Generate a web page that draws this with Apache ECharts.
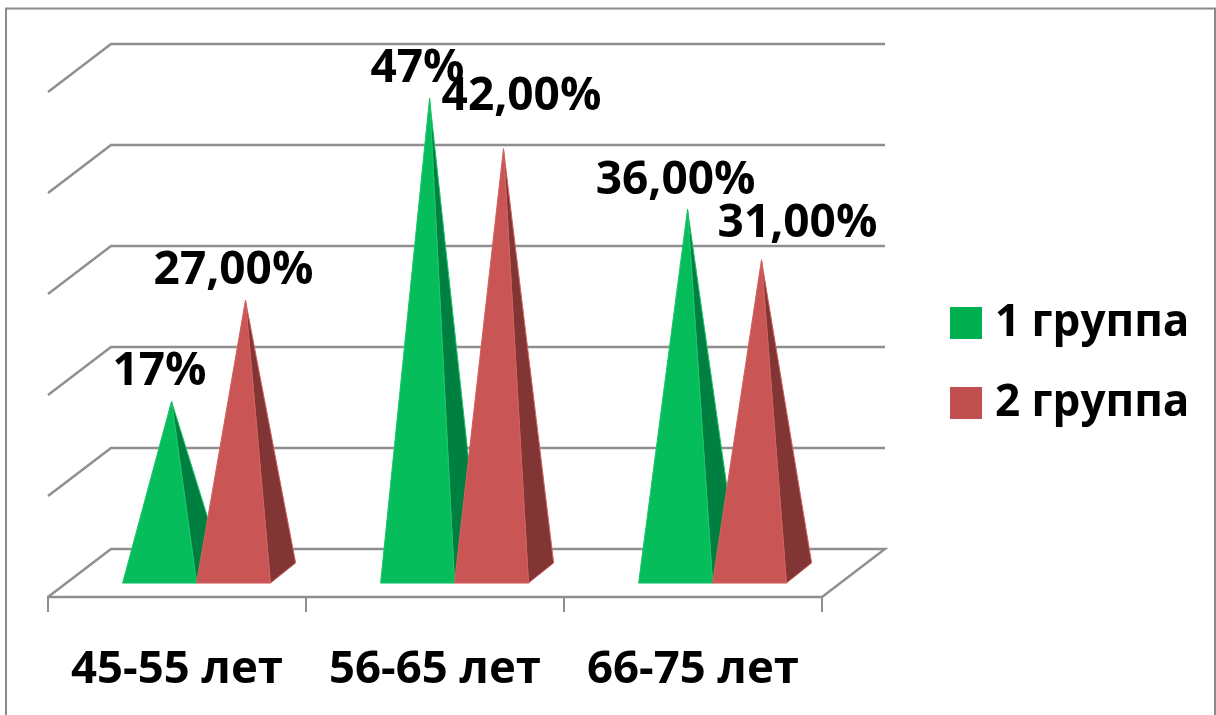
<!DOCTYPE html>
<html>
<head>
<meta charset="utf-8">
<style>html,body{margin:0;padding:0;background:#fff}#chart{width:1216px;height:715px}</style>
<script src="https://cdn.jsdelivr.net/npm/echarts@6/dist/echarts.min.js"></script>
</head>
<body>
<div id="chart"></div>
<script>
// Age bands and share of patients per group, in percent
const ageBands = ['45-55 лет', '56-65 лет', '66-75 лет'];
const group1Name = '1 группа';
const group2Name = '2 группа';
const group1Values = [17, 47, 36];
const group2Values = [27, 42, 31];
const group1Labels = ['17%', '47%', '36,00%'];
const group2Labels = ['27,00%', '42,00%', '31,00%'];
const wallTicks = [0, 10, 20, 30, 40, 50];

// Hand placement of the labels that would otherwise collide, [dx, dy] in pixels
const group1LabelShift = [[0, 0], [0, 0], [0, 0]];
const group2LabelShift = [[0, 0], [30, -23], [48, -7]];

// Oblique projection of the floor depth
const DEPTH_X = 63;
const DEPTH_Y = 48;
const FONT = 'bold 46px "Open Sans"';
const WALL = '#8f8f8f';

const chart = echarts.init(document.getElementById('chart'));

function renderWall(params, api) {
  const box = params.coordSys;
  const y = api.coord([0, api.value(0)])[1];
  const left = box.x, right = box.x + box.width;
  const isFloor = api.value(0) === 0;
  const points = [[left, y], [left + DEPTH_X, y - DEPTH_Y], [right + DEPTH_X, y - DEPTH_Y]];
  if (isFloor) points.push([right, y]);
  return {
    type: 'polyline',
    shape: { points },
    style: { stroke: WALL, lineWidth: 2.4, fill: null },
    silent: true
  };
}

// One pyramid: a lit front face, a shaded right face and its label over the apex.
// slot -1 sits left of the band centre, slot 0 right of it.
function pyramidRenderer(slot, labels, shifts, front, side, edge) {
  return function (params, api) {
    const index = api.value(0);
    const value = api.value(1);
    const band = api.size([1, 0])[0];
    const width = band * 0.2865;
    const floor = api.coord([index, 0]);
    const top = api.coord([index, value]);
    const xL = floor[0] + 0.31 * DEPTH_X + slot * width;
    const xR = xL + width;
    const yF = floor[1] - 0.29 * DEPTH_Y;
    const backX = xR + 0.40 * DEPTH_X;
    const backY = yF - 0.42 * DEPTH_Y;
    const apex = [xL + width / 2 + 0.19 * DEPTH_X, top[1] - 0.5 * DEPTH_Y];
    const shift = shifts[index];
    return {
      type: 'group',
      children: [
        {
          type: 'polygon',
          shape: { points: [[xR, yF], [backX, backY], apex] },
          style: { fill: side, stroke: edge, lineWidth: 1 }
        },
        {
          type: 'polygon',
          shape: { points: [[xL, yF], [xR, yF], apex] },
          style: { fill: front, stroke: edge, lineWidth: 1 }
        },
        {
          type: 'text',
          x: apex[0] - 12 + shift[0],
          y: apex[1] - 29 + shift[1],
          style: {
            text: labels[index],
            font: FONT,
            fill: '#000',
            align: 'center',
            verticalAlign: 'middle'
          }
        }
      ]
    };
  };
}

chart.setOption({
  animation: false,
  backgroundColor: '#fff',
  grid: { left: 48, right: 394, top: 92, bottom: 118 },
  legend: {
    data: [group1Name, group2Name],
    orient: 'vertical',
    left: 950,
    top: 301,
    padding: 0,
    icon: 'rect',
    itemWidth: 32,
    itemHeight: 32,
    itemGap: 36,
    textStyle: { color: '#000', fontFamily: 'Open Sans', fontWeight: 'bold', fontSize: 44, padding: [10, 0, 0, 8] },
    selectedMode: false
  },
  xAxis: {
    type: 'category',
    data: ageBands,
    axisLine: { lineStyle: { color: WALL, width: 2.4 } },
    axisTick: { show: true, interval: 0, length: 15, lineStyle: { color: WALL, width: 2 } },
    axisLabel: { interval: 0, color: '#000', fontFamily: 'Open Sans', fontWeight: 'bold', fontSize: 45.5, margin: 50 }
  },
  yAxis: {
    type: 'value', min: 0, max: 50, interval: 10, show: false,
    splitLine: { show: false }
  },
  graphic: [{
    type: 'polyline',
    silent: true,
    shape: { points: [[6, 715], [6, 8.5], [1215, 8.5], [1215, 715]] },
    style: { stroke: '#8a8a8a', lineWidth: 2, fill: null }
  }],
  series: [
    {
      name: 'walls', type: 'custom', silent: true, z: 1,
      data: wallTicks.map(t => [t]),
      encode: { y: 0 },
      renderItem: renderWall
    },
    {
      name: group1Name, type: 'custom', z: 2,
      itemStyle: { color: '#00b050' },
      data: group1Values.map((v, i) => [i, v]),
      encode: { x: 0, y: 1 },
      renderItem: pyramidRenderer(-1, group1Labels, group1LabelShift, '#05bd5a', '#008040', '#1dc46c')
    },
    {
      name: group2Name, type: 'custom', z: 3,
      itemStyle: { color: '#c0504d' },
      data: group2Values.map((v, i) => [i, v]),
      encode: { x: 0, y: 1 },
      renderItem: pyramidRenderer(0, group2Labels, group2LabelShift, '#c95654', '#823535', '#d2615e')
    }
  ]
});
</script>
</body>
</html>
